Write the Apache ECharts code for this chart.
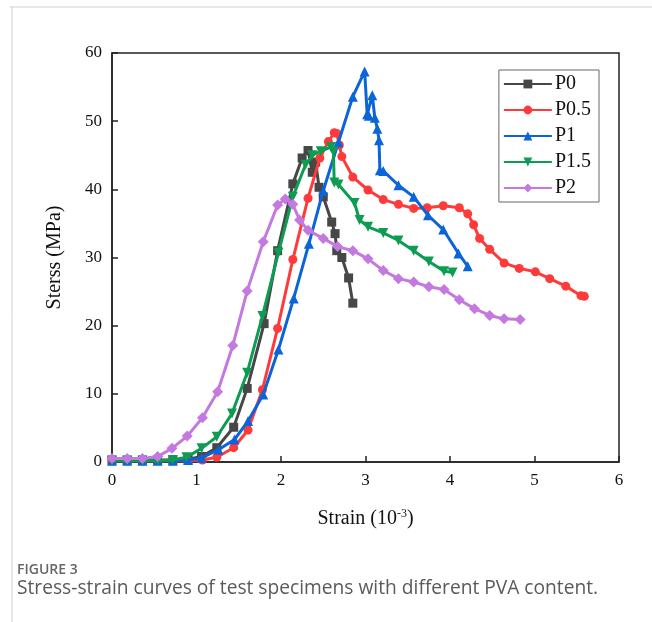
<!DOCTYPE html>
<html>
<head>
<meta charset="utf-8">
<script src="https://cdn.jsdelivr.net/npm/echarts@6/dist/echarts.min.js"></script>
<style>
html,body{margin:0;padding:0;background:#fff;}
#chart{width:652px;height:622px;}
</style>
</head>
<body>
<div id="chart"></div>
<script>
// ---- data (strain 10^-3, stress MPa) ----
const seriesNames = ['P0', 'P0.5', 'P1', 'P1.5', 'P2'];
const xTicks = [0, 1, 2, 3, 4, 5, 6];
const yTicks = [0, 10, 20, 30, 40, 50, 60];

const P0 = [[0,0.3],[0.18,0.3],[0.36,0.3],[0.54,0.3],[0.72,0.3],[0.9,0.4],[1.06,0.8],[1.24,2.1],[1.44,5.1],[1.60,10.8],[1.80,20.3],[1.96,31.0],[2.14,40.8],[2.25,44.6],[2.32,45.7],[2.37,42.5],[2.41,44.0],[2.45,40.3],[2.50,38.9],[2.60,35.2],[2.64,33.5],[2.66,31.0],[2.72,30.0],[2.80,27.0],[2.85,23.3]];

const P05 = [[0,0.2],[0.18,0.2],[0.36,0.2],[0.54,0.2],[0.72,0.2],[0.9,0.2],[1.07,0.3],[1.24,0.7],[1.44,2.1],[1.61,4.7],[1.78,10.6],[1.96,19.6],[2.14,29.7],[2.32,38.7],[2.46,44.6],[2.56,47.0],[2.63,48.3],[2.66,48.2],[2.69,46.5],[2.72,44.8],[2.85,41.8],[3.03,39.9],[3.21,38.5],[3.39,37.8],[3.57,37.2],[3.73,37.3],[3.92,37.6],[4.11,37.3],[4.21,36.4],[4.28,34.8],[4.35,32.8],[4.47,31.2],[4.64,29.2],[4.82,28.4],[5.01,27.9],[5.18,26.9],[5.37,25.8],[5.55,24.4],[5.59,24.3]];

const P1 = [[0,0.2],[0.18,0.2],[0.36,0.2],[0.54,0.2],[0.72,0.2],[0.9,0.3],[1.06,0.6],[1.26,1.8],[1.45,3.3],[1.61,6.0],[1.79,9.9],[1.97,16.5],[2.15,24.0],[2.33,32.0],[2.50,39.8],[2.68,46.9],[2.85,53.6],[2.99,57.3],[3.02,51.0],[3.04,50.8],[3.08,53.8],[3.11,50.5],[3.14,48.9],[3.16,47.2],[3.17,42.8],[3.21,42.7],[3.39,40.6],[3.57,38.9],[3.74,36.2],[3.92,34.1],[4.10,30.6],[4.21,28.7]];

const P15 = [[0,0.2],[0.18,0.2],[0.36,0.2],[0.54,0.2],[0.72,0.3],[0.88,0.7],[1.06,2.0],[1.24,3.7],[1.42,7.1],[1.60,13.1],[1.78,21.4],[1.97,30.7],[2.14,38.9],[2.29,43.6],[2.37,45.0],[2.47,45.6],[2.59,46.2],[2.62,45.5],[2.63,41.0],[2.68,40.7],[2.87,38.0],[2.93,35.5],[3.03,34.5],[3.21,33.6],[3.39,32.5],[3.57,31.0],[3.75,29.4],[3.93,28.0],[4.03,27.8]];

const P2 = [[0,0.5],[0.18,0.5],[0.36,0.5],[0.54,0.8],[0.71,2.0],[0.89,3.8],[1.07,6.5],[1.25,10.3],[1.43,17.1],[1.60,25.1],[1.79,32.3],[1.96,37.7],[2.05,38.6],[2.14,37.8],[2.22,35.5],[2.32,34.0],[2.50,32.8],[2.67,31.6],[2.85,31.0],[3.03,29.8],[3.21,28.1],[3.39,26.9],[3.57,26.4],[3.75,25.7],[3.93,25.3],[4.11,23.8],[4.29,22.5],[4.47,21.5],[4.64,21.0],[4.83,20.9]];

const seriesData = [P0, P05, P1, P15, P2];
const colors = ['#474747', '#ff3a3a', '#0b64d8', '#0c9d52', '#c479e0'];
const symbols = ['rect', 'circle', 'triangle', 'path://M0,0 L10,0 L5,9 Z', 'diamond'];
const symbolSizes = [9, 9, 10, 10, 11];

const chart = echarts.init(document.getElementById('chart'), null, {renderer: 'canvas'});
const serif = 'Liberation Serif, Times New Roman, serif';

const option = {
  backgroundColor: '#fff',
  animation: false,
  grid: {left: 112, top: 53, right: 33, bottom: 160, show: true, borderColor: '#222', borderWidth: 1.5, backgroundColor: 'transparent'},
  legend: {
    orient: 'vertical', right: 53, top: 70,
    data: seriesNames,
    itemWidth: 48, itemHeight: 11, itemGap: 6,
    padding: [4, 8, 4, 4],
    backgroundColor: '#fff',
    borderColor: '#666', borderWidth: 1, borderRadius: 0,
    textStyle: {fontFamily: serif, fontSize: 20, color: '#111', padding: [0,0,0,-2], lineHeight: 20}
  },
  xAxis: {
    type: 'value', min: 0, max: 6, interval: 1,
    name: '{n|Strain (10}{s|-3}{n|)}',
    nameLocation: 'middle', nameGap: 46,
    nameTextStyle: {rich: {n: {fontFamily: serif, fontSize: 20, color: '#111'}, s: {fontFamily: serif, fontSize: 12, color: '#111', verticalAlign: 'top', padding: [0,0,10,0]}}},
    axisLine: {show: true, lineStyle: {color: '#222', width: 1.5}},
    axisTick: {show: true, inside: true, length: 6, lineStyle: {color: '#222', width: 1.5}},
    axisLabel: {fontFamily: serif, fontSize: 17, color: '#111', margin: 10, formatter: v => xTicks.includes(v) ? String(v) : ''},
    splitLine: {show: false}
  },
  yAxis: {
    type: 'value', min: 0, max: 60, interval: 10,
    name: 'Sterss (MPa)',
    nameLocation: 'middle', nameGap: 47,
    nameTextStyle: {fontFamily: serif, fontSize: 20, color: '#111'},
    axisLine: {show: true, lineStyle: {color: '#222', width: 1.5}},
    axisTick: {show: true, inside: true, length: 6, lineStyle: {color: '#222', width: 1.5}},
    axisLabel: {fontFamily: serif, fontSize: 17, color: '#111', margin: 10, formatter: v => yTicks.includes(v) ? String(v) : ''},
    splitLine: {show: false}
  },
  series: seriesNames.map((n, i) => ({
    name: n, type: 'line', data: seriesData[i],
    symbol: symbols[i], symbolSize: symbolSizes[i], showSymbol: true,
    lineStyle: {color: colors[i], width: 3},
    itemStyle: {color: colors[i], borderWidth: 0},
    z: 2 + i
  })),
  graphic: [
    {type: 'line', shape: {x1: 10, y1: 7, x2: 652, y2: 7}, style: {stroke: '#cfcfcf', lineWidth: 1}},
    {type: 'line', shape: {x1: 12, y1: 7, x2: 12, y2: 622}, style: {stroke: '#cfcfcf', lineWidth: 1}},
    {type: 'text', left: 17, top: 563, style: {text: 'FIGURE 3', font: '600 14px "Open Sans", "Noto Sans", sans-serif', fill: '#666'}},
    {type: 'text', left: 17, top: 579, style: {text: 'Stress-strain curves of test specimens with different PVA content.', font: '19.2px "Open Sans", "Noto Sans", sans-serif', fill: '#5a5a5a'}}
  ]
};
chart.setOption(option);
</script>
</body>
</html>
